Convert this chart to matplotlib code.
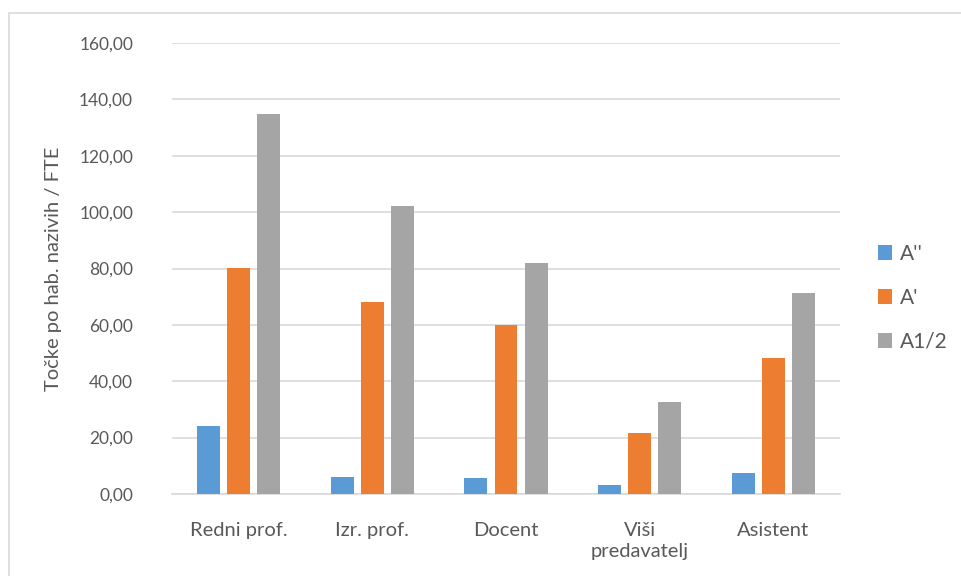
import matplotlib
matplotlib.use("Agg")
import matplotlib.pyplot as plt
import numpy as np
from matplotlib.patches import Rectangle

categories = ["Redni prof.", "Izr. prof.", "Docent", "Viši\npredavatelj", "Asistent"]
series_names = ["A''", "A'", "A1/2"]
a_dd = [24.2, 6.1, 5.8, 3.3, 7.3]
a_d = [80.1, 68.2, 60.0, 21.6, 48.2]
a_half = [134.7, 102.2, 82.1, 32.5, 71.4]
colors = ["#5B9BD5", "#ED7D31", "#A5A5A5"]
yticks = [0, 20, 40, 60, 80, 100, 120, 140, 160]

plt.rcParams['font.family'] = ['Lato', 'DejaVu Sans']
txt = "#595959"

fig = plt.figure(figsize=(9.61, 5.76), dpi=100)
W, H = 961, 576
ax = fig.add_axes([172 / W, 1 - 494 / H, (840 - 172) / W, (494 - 43) / H])

x = np.arange(len(categories))
bw = 0.172
step = 0.225
for i, (vals, c, name) in enumerate(zip([a_dd, a_d, a_half], colors, series_names)):
    ax.bar(x + (i - 1) * step, vals, width=bw, color=c, label=name, zorder=3)

ax.set_xlim(-0.5, len(categories) - 0.5)
ax.set_ylim(0, 160)
ax.set_yticks(yticks)
ax.set_yticklabels([f"{v:.2f}".replace(".", ",") for v in yticks], color=txt, fontsize=12.5)
ax.set_xticks(x)
ax.set_xticklabels(categories, color=txt, fontsize=14.5, linespacing=1.3)
ax.tick_params(axis='both', length=0)
ax.tick_params(axis='y', pad=28)
ax.tick_params(axis='x', pad=20)
ax.grid(axis='y', color="#D9D9D9", linewidth=1.2, zorder=0)
for s in ['top', 'right', 'left']:
    ax.spines[s].set_visible(False)
ax.spines['bottom'].set_color("#D9D9D9")
ax.spines['bottom'].set_linewidth(1.2)
ax.set_ylabel("Točke po hab. nazivih / FTE", color=txt, fontsize=14.5, labelpad=12)

leg = fig.legend(loc='center left', bbox_to_anchor=(859 / W, 1 - 298 / H), frameon=False,
                 fontsize=15, labelcolor=txt, handlelength=0.7, handleheight=0.7,
                 handletextpad=0.35, labelspacing=1.15)

fig.patches.append(Rectangle((9 / W, -0.1), 2, 1 - 13 / H + 0.1, transform=fig.transFigure,
                             fill=False, edgecolor="#D9D9D9", linewidth=1.2))

fig.savefig("out.png", dpi=100, facecolor="white")
